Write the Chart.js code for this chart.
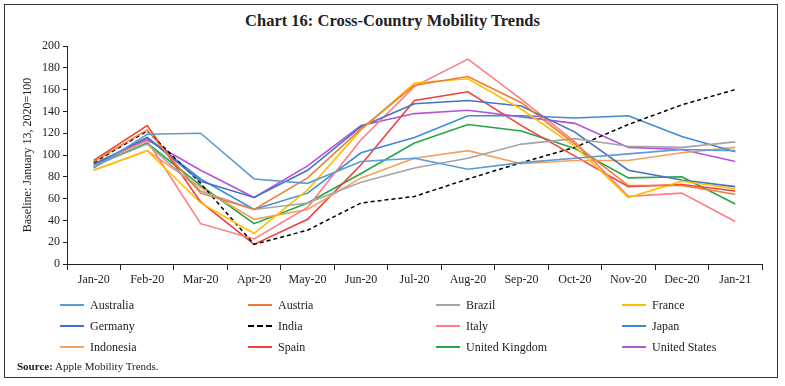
<!DOCTYPE html>
<html>
<head>
<meta charset="utf-8">
<script src="https://cdn.jsdelivr.net/npm/chart.js@4"></script>
<style>
  body { margin: 0; background: #fff; }
  #wrap { position: relative; width: 785px; height: 386px; font-family: "Liberation Serif", "DejaVu Serif", serif; color: #222; }
  #frame { position: absolute; left: 4px; top: 4px; width: 774px; height: 374px; border: 1.5px solid #333; box-sizing: border-box; }
  #title { position: absolute; left: 0; top: 11px; width: 785px; text-align: center; font-size: 16.5px; font-weight: bold; }
  #chart { position: absolute; left: 0; top: 0; }
  #legend { position: absolute; left: 0; top: 296px; width: 785px; }
  .item { position: absolute; font-size: 12px; height: 18px; line-height: 18px; white-space: nowrap; }
  .item span.ln { position: absolute; left: 0; top: 8px; width: 24px; height: 0; }
  .item span.tx { position: absolute; left: 30px; top: 0; }
  #source { position: absolute; left: 17px; top: 360px; font-size: 11px; }
</style>
</head>
<body>
<div id="wrap">
  <div id="frame"></div>
  <div id="title">Chart 16: Cross-Country Mobility Trends</div>
  <canvas id="chart" width="785" height="386"></canvas>
  <div id="legend"></div>
  <div id="source"><b>Source:</b> Apple Mobility Trends.</div>
</div>
<script>
var months = ['Jan-20','Feb-20','Mar-20','Apr-20','May-20','Jun-20','Jul-20','Aug-20','Sep-20','Oct-20','Nov-20','Dec-20','Jan-21'];

var australia     = [88, 119, 120, 78, 74, 94, 97, 87, 93, 97, 101, 105, 104];
var austria       = [94, 123, 65, 50, 79, 124, 164, 172, 148, 110, 72, 72, 64];
var brazil        = [90, 110, 67, 50, 56, 75, 88, 97, 110, 115, 108, 107, 112];
var france        = [86, 104, 56, 28, 68, 123, 166, 170, 142, 108, 61, 76, 69];
var germany       = [91, 116, 76, 61, 86, 126, 147, 150, 145, 121, 86, 77, 71];
var india         = [93, 122, 74, 18, 31, 56, 62, 78, 93, 107, 128, 146, 160];
var italy         = [92, 113, 37, 23, 52, 114, 163, 188, 151, 112, 62, 65, 39];
var japan         = [89, 116, 78, 50, 65, 102, 116, 136, 136, 134, 136, 117, 103];
var indonesia     = [86, 104, 70, 41, 50, 79, 97, 104, 92, 95, 95, 102, 107];
var spain         = [95, 127, 57, 18, 41, 91, 150, 158, 127, 99, 71, 73, 67];
var unitedKingdom = [90, 111, 72, 37, 56, 83, 111, 128, 122, 106, 79, 80, 55];
var unitedStates  = [92, 114, 86, 61, 90, 127, 138, 141, 135, 129, 107, 105, 94];

var seriesNames = ['Australia','Austria','Brazil','France','Germany','India','Italy','Japan','Indonesia','Spain','United Kingdom','United States'];
var seriesData = [australia, austria, brazil, france, germany, india, italy, japan, indonesia, spain, unitedKingdom, unitedStates];
var seriesColors = ['#5B9BD5','#ED7D31','#A5A5A5','#FFC000','#4472C4','#000000','#FF7C80','#3F8AD8','#F5A05A','#F0403A','#22A84A','#B455D9'];

var datasets = seriesNames.map(function (name, i) {
    return {
        label: name,
        data: seriesData[i],
        borderColor: seriesColors[i],
        backgroundColor: seriesColors[i],
        borderWidth: name == 'India' ? 1.5 : 1.6,
        borderDash: name == 'India' ? [4, 3] : [],
        pointRadius: 0,
        tension: 0,
        fill: false
    };
});

// html legend, 4 columns
var legendDiv = document.getElementById('legend');
var colX = [60, 248, 436, 622];
var rowY = [0, 21, 42];
seriesNames.forEach(function (name, i) {
    var item = document.createElement('div');
    item.className = 'item';
    item.style.left = colX[i % 4] + 'px';
    item.style.top = rowY[Math.floor(i / 4)] + 'px';
    var ln = document.createElement('span');
    ln.className = 'ln';
    ln.style.borderTop = name == 'India' ? '2px dashed #000' : '2px solid ' + seriesColors[i];
    var tx = document.createElement('span');
    tx.className = 'tx';
    tx.textContent = name;
    item.appendChild(ln);
    item.appendChild(tx);
    legendDiv.appendChild(item);
});

var fontFam = '"Liberation Serif", "DejaVu Serif", serif';

new Chart(document.getElementById('chart').getContext('2d'), {
    type: 'line',
    data: { labels: months, datasets: datasets },
    options: {
        responsive: false,
        animation: false,
        layout: { padding: { left: 19, right: 23, top: 46, bottom: 97 } },
        plugins: {
            legend: { display: false },
            tooltip: { enabled: false }
        },
        scales: {
            x: {
                offset: true,
                afterFit: function (s) { s.height = 25; },
                grid: { display: true, drawOnChartArea: false, offset: true, tickLength: 6, color: '#222' },
                border: { display: true, color: '#222', width: 1 },
                ticks: { color: '#222', padding: 3, maxRotation: 0, autoSkip: false, font: { family: fontFam, size: 12 } }
            },
            y: {
                min: 0,
                max: 200,
                afterFit: function (s) { s.width = 48; },
                title: { display: true, text: 'Baseline: January 13, 2020=100', color: '#222', padding: 2, font: { family: fontFam, size: 12 } },
                grid: { display: true, drawOnChartArea: false, tickLength: 4, color: '#222' },
                border: { display: true, color: '#222', width: 1 },
                ticks: { stepSize: 20, color: '#222', padding: 3, font: { family: fontFam, size: 12 } }
            }
        }
    }
});
</script>
</body>
</html>
